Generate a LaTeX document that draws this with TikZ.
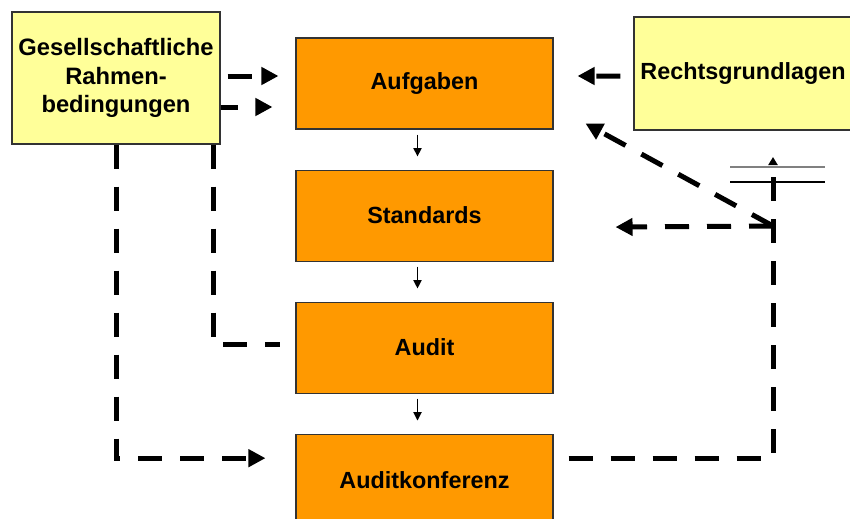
\documentclass[tikz,border=0pt]{standalone}
\usepackage{fontspec}
\setmainfont{Liberation Sans}
\usetikzlibrary{arrows.meta,positioning,calc}
\definecolor{hellgelb}{HTML}{FFFF99}
\definecolor{kraeftigorange}{HTML}{FF9900}

\begin{document}
\begin{tikzpicture}[
        gelbbox/.style={draw=black!80, line width=0.6pt, fill=hellgelb, minimum width=4.16cm, minimum height=2.64cm, align=center, inner sep=0pt, font=\bfseries\fontsize{13.5}{16}\selectfont},
        orangebox/.style={draw=black!80, line width=0.6pt, fill=kraeftigorange, minimum width=5.14cm, minimum height=1.82cm, align=center, inner sep=0pt, font=\bfseries\fontsize{13.3}{16}\selectfont},
        strich/.style={line width=0.1cm, dash pattern=on 0.48cm off 0.36cm},
        pfeil/.style={strich, -{Triangle[length=0.34cm, width=0.34cm]}},
        kleinpfeil/.style={line width=1.1pt, -{Triangle[length=0.17cm, width=0.16cm]}}
    ]
    \useasboundingbox (0,0) rectangle (17,-10.36);
    % Knoten
    \node[gelbbox] (gesell) at (2.32,-1.56) {Gesellschaftliche\\Rahmen-\\bedingungen};
    \node[orangebox] (aufgaben) at (8.49,-1.67) {Aufgaben};
    \node[orangebox, below=0.8cm of aufgaben] (standards) {Standards};
    \node[orangebox, below=0.8cm of standards] (audit) {Audit};
    \node[orangebox, below=0.8cm of audit] (konferenz) {Auditkonferenz};
    \node[gelbbox, minimum width=4.36cm, minimum height=2.26cm, font=\bfseries\fontsize{13.3}{16}\selectfont] (recht) at (14.86,-1.47) {Rechtsgrundlagen};
    \coordinate (knoten) at (15.46,-4.52);
    \coordinate (oben) at (15.46,-3.14);
    % Unterbrechung
    \draw[gray, line width=0.8pt] ($(oben)+(-0.86,-0.2)$) -- ++(1.9,0);
    \draw[line width=0.8pt] ($(oben)+(-0.86,-0.5)$) -- ++(1.9,0);
    % Pfeile
    \draw[kleinpfeil] ($(aufgaben.south)+(-0.14,-0.1)$) -- ($(standards.north)+(-0.14,0.26)$);
    \draw[kleinpfeil] ($(standards.south)+(-0.14,-0.1)$) -- ($(audit.north)+(-0.14,0.26)$);
    \draw[kleinpfeil] ($(audit.south)+(-0.14,-0.1)$) -- ($(konferenz.north)+(-0.14,0.26)$);
    \draw[pfeil] ($(gesell.east)+(0.14,0.04)$) -- ($(aufgaben.west)+(-0.34,0.15)$);
    \draw[pfeil, dash phase=0.14cm] ($(gesell.east)+(0,-0.58)$) -- ($(aufgaben.west)+(-0.46,-0.47)$);
    \draw[pfeil] ($(recht.west)+(-0.26,-0.05)$) -- ($(aufgaben.east)+(0.48,0.15)$);
    \draw[pfeil] (gesell.south) |- ($(konferenz.west)+(-0.6,0.43)$);
    \draw[strich] ([xshift=-0.14cm]gesell.south east) |- ($(audit.west)+(-0.3,0.06)$);
    \draw[strich, -{Triangle[length=0.16cm, width=0.18cm]}] ($(konferenz.east)+(0.3,0.43)$) -| (oben);
    \draw[pfeil] (knoten) -- ($(aufgaben.south east)+(0.64,0.12)$);
    \draw[pfeil] (knoten) -- ($(standards.east)+(1.24,-0.23)$);
\end{tikzpicture}
\end{document}
